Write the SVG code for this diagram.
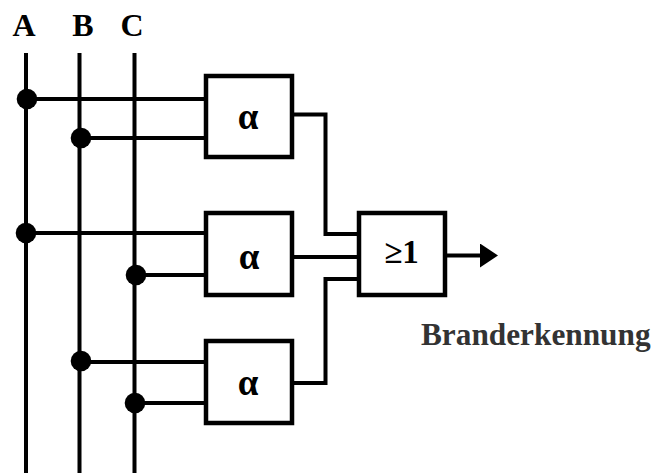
<svg xmlns="http://www.w3.org/2000/svg" width="653" height="473" viewBox="0 0 653 473">
<style>
.w{fill:none;stroke:#000;stroke-width:4}
.b{fill:#fff;stroke:#000;stroke-width:4.500}
.d{fill:#000}
text{font-family:"Liberation Serif","Times New Roman",serif;font-weight:bold;fill:#000}
.l{font-size:32px;text-anchor:middle}
.g{font-size:37px;text-anchor:middle}
</style>
<defs>
<marker id="arrow" markerUnits="userSpaceOnUse" markerWidth="18" markerHeight="24" refX="0" refY="12" orient="auto"><path d="M0 0L18 12L0 24Z" fill="#000"/></marker>
</defs>
<rect width="653" height="473" fill="#fff"/>
<g id="connectors">
<path class="w" d="M26 53V473M79.500 53V473M134.500 53V473"/>
<path class="w" d="M27 99H206M81 138H206M27 233H206M136 275H206M81 362H206M135 403H206"/>
<path class="w" d="M292 114.500H325.500V234H359M292 257H359M292 383H325.500V279H359"/>
<path class="w" d="M445 255.500H480" marker-end="url(#arrow)"/>
<circle class="d" cx="27" cy="99" r="10.300"/>
<circle class="d" cx="81" cy="138" r="10.300"/>
<circle class="d" cx="26" cy="233" r="10.300"/>
<circle class="d" cx="136" cy="275" r="10.300"/>
<circle class="d" cx="81" cy="361" r="10.300"/>
<circle class="d" cx="135" cy="403" r="10.300"/>
</g>
<g id="label-a"><text class="l" x="24" y="36">A</text></g>
<g id="label-b"><text class="l" x="83" y="36">B</text></g>
<g id="label-c"><text class="l" x="132" y="36">C</text></g>
<g id="and1"><rect class="b" x="206" y="76" width="86" height="81"/><text class="g" x="248" y="129">α</text></g>
<g id="and2"><rect class="b" x="206" y="213" width="86" height="82"/><text class="g" x="249" y="269">α</text></g>
<g id="and3"><rect class="b" x="206" y="341" width="86" height="82"/><text class="g" x="248" y="395">α</text></g>
<g id="or"><rect class="b" x="359" y="213" width="86" height="82"/><text class="l" x="401.500" y="263" style="font-size:33px">≥1</text></g>
<g id="output-label"><text x="421" y="345" style="font-size:31.300px;fill:#333">Branderkennung</text></g>
</svg>
